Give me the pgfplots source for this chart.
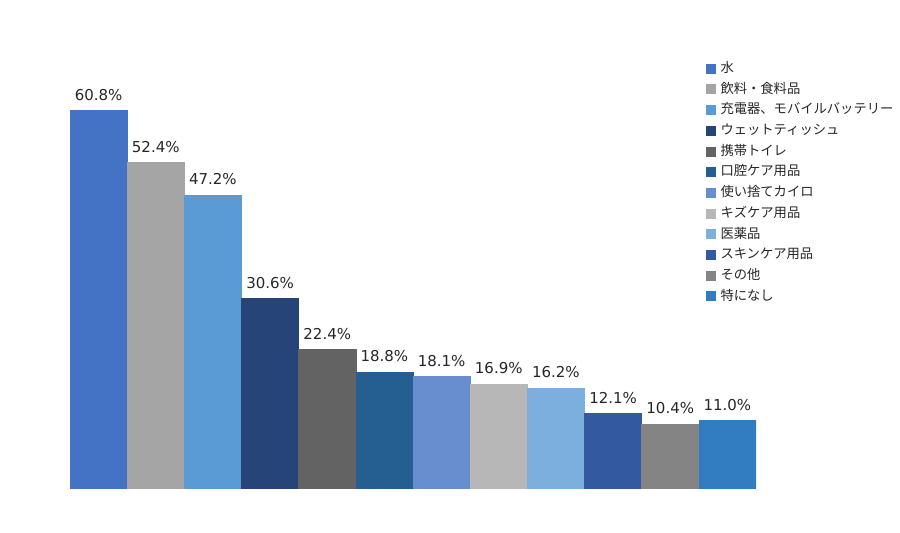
\documentclass[border=0pt]{standalone}
\usepackage{fontspec}
\setmainfont{DejaVu Sans}
\newfontfamily\cjk{Noto Sans CJK JP}
\usepackage{pgfplots}
\pgfplotsset{compat=1.18}
\definecolor{c1}{HTML}{4472C4}
\definecolor{c2}{HTML}{A5A5A5}
\definecolor{c3}{HTML}{5B9BD5}
\definecolor{c4}{HTML}{264478}
\definecolor{c5}{HTML}{636363}
\definecolor{c6}{HTML}{255E91}
\definecolor{c7}{HTML}{698ED0}
\definecolor{c8}{HTML}{B7B7B7}
\definecolor{c9}{HTML}{7CAFDD}
\definecolor{c10}{HTML}{335AA1}
\definecolor{c11}{HTML}{848484}
\definecolor{c12}{HTML}{327DC2}
\begin{document}
\begin{tikzpicture}[x=1pt,y=1pt]
\path[use as bounding box] (0,0) rectangle (900,533);
\begin{axis}[
  at={(70pt,44pt)}, anchor=south west,
  scale only axis, width=686pt, height=436pt,
  xmin=-0.5, xmax=11.5, ymin=0, ymax=70,
  hide axis,
  ybar, bar width=1, bar shift=0pt,
  /pgf/number format/assume math mode=true,
  nodes near coords={\pgfmathprintnumber[fixed,fixed zerofill,precision=1]{\pgfplotspointmeta}\%},
  every node near coord/.append style={font=\fontsize{15}{17}\selectfont, text=black!85, anchor=south, yshift=6.5pt},
  legend image code/.code={\fill[#1] (0pt,-4.5pt) rectangle (9pt,4.5pt);},
  legend cell align=left,
  legend style={at={(0.927,0.981)}, anchor=north west, draw=none, fill=none,
    font=\cjk\fontsize{13.3}{15}\selectfont, text=black!85,
    inner sep=0pt, row sep=6.7pt,
    nodes={inner sep=0pt, text height=11pt, text depth=3pt},
    /tikz/every odd column/.append style={column sep=5pt}},
]
\addplot[fill=c1, draw=c1, bar shift=0pt] coordinates {(0,60.8)}; \addlegendentry{水}
\addplot[fill=c2, draw=c2, bar shift=0pt] coordinates {(1,52.4)}; \addlegendentry{飲料・食料品}
\addplot[fill=c3, draw=c3, bar shift=0pt] coordinates {(2,47.2)}; \addlegendentry{充電器、モバイルバッテリー}
\addplot[fill=c4, draw=c4, bar shift=0pt] coordinates {(3,30.6)}; \addlegendentry{ウェットティッシュ}
\addplot[fill=c5, draw=c5, bar shift=0pt] coordinates {(4,22.4)}; \addlegendentry{携帯トイレ}
\addplot[fill=c6, draw=c6, bar shift=0pt] coordinates {(5,18.8)}; \addlegendentry{口腔ケア用品}
\addplot[fill=c7, draw=c7, bar shift=0pt] coordinates {(6,18.1)}; \addlegendentry{使い捨てカイロ}
\addplot[fill=c8, draw=c8, bar shift=0pt] coordinates {(7,16.9)}; \addlegendentry{キズケア用品}
\addplot[fill=c9, draw=c9, bar shift=0pt] coordinates {(8,16.2)}; \addlegendentry{医薬品}
\addplot[fill=c10, draw=c10, bar shift=0pt] coordinates {(9,12.1)}; \addlegendentry{スキンケア用品}
\addplot[fill=c11, draw=c11, bar shift=0pt] coordinates {(10,10.4)}; \addlegendentry{その他}
\addplot[fill=c12, draw=c12, bar shift=0pt] coordinates {(11,11.0)}; \addlegendentry{特になし}
\end{axis}
\end{tikzpicture}
\end{document}
